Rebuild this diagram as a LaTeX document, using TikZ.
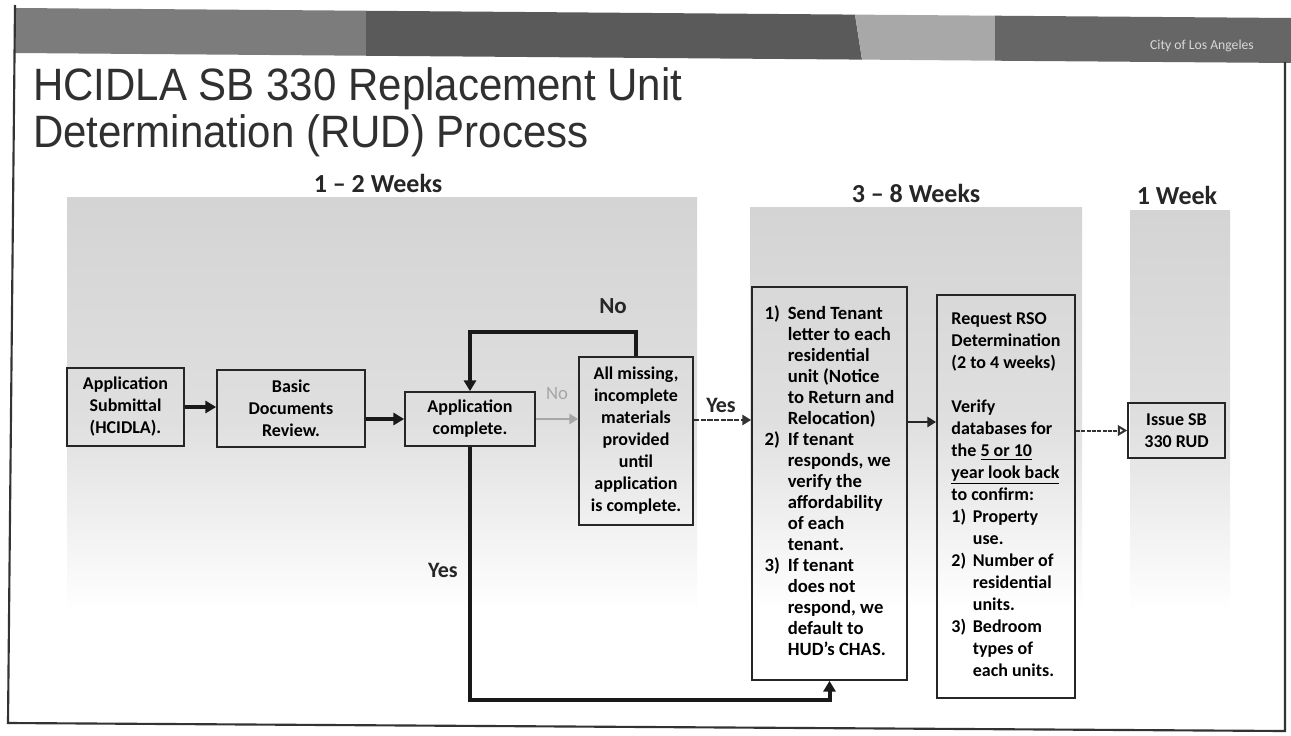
\documentclass[tikz,border=0pt]{standalone}
\usepackage{fontspec}
\setmainfont{Carlito}
\newfontfamily\titlefont{Liberation Sans}
\usetikzlibrary{arrows.meta}
\definecolor{bandA}{HTML}{7C7C7C}
\definecolor{bandB}{HTML}{5A5A5A}
\definecolor{bandC}{HTML}{A8A8A8}
\definecolor{bandD}{HTML}{666666}
\definecolor{panelTop}{HTML}{D4D4D4}
\definecolor{panelMid}{HTML}{DFDFDF}
\definecolor{titlecol}{HTML}{303030}
\definecolor{framecol}{HTML}{333333}
\begin{document}
\begin{tikzpicture}[x=0.75pt,y=-0.75pt,
  box/.style={draw=black!85, line width=1.3pt, inner sep=0pt, align=center,
    font=\bfseries\fontsize{13.5}{16.5}\selectfont},
  hdr/.style={font=\bfseries\fontsize{19.5}{22}\selectfont, text=black!85},
  lbl/.style={font=\bfseries\fontsize{16.5}{19}\selectfont, text=black!85},
  titlestyle/.style={anchor=base west, font=\titlefont\fontsize{31.5}{35}\selectfont, text=titlecol, inner sep=0pt},
  thickarrow/.style={draw=black!90, line width=3pt, -{Triangle[length=8pt,width=9pt]}},
  thinarrow/.style={draw=black!85, line width=2pt, -{Triangle[length=6.5pt,width=7.5pt]}},
  dasharrow/.style={draw=black!80, line width=1.8pt, dash pattern=on 4pt off 1pt, -{Triangle[length=6.5pt,width=7.5pt]}},
  openarrow/.style={draw=black!80, line width=1.5pt, dash pattern=on 3pt off 1pt, -{Triangle[open,length=7pt,width=8pt]}},
  grayarrow/.style={draw=black!35, line width=2.2pt, -{Triangle[length=6.5pt,width=7.5pt]}}
]
\useasboundingbox (0,0) rectangle (1291,735);
\fill[white] (0,0) rectangle (1291,735);

% top band
\fill[bandA] (15,8) -- (366,10.75) -- (366,55.75) -- (15,53) -- cycle;
\fill[bandB] (366,10.75) -- (855,14.6) -- (862,59.6) -- (366,55.75) -- cycle;
\fill[bandC] (855,14.6) -- (995,15.7) -- (995,60.7) -- (862,59.6) -- cycle;
\fill[bandD] (995,15.7) -- (1291,18) -- (1291,63) -- (995,60.7) -- cycle;
\node[font=\fontsize{10.25}{12}\selectfont, text=black!15] (city) at (1202,46) {City of Los Angeles};

% frame
\draw[framecol, line width=1.6pt] (15,5) -- (8,723) -- (1285,731) -- (1285,62);

% title
\node[titlestyle] (title1) at (33,100) {\scalebox{1}[1.08]{HCIDLA SB 330 Replacement Unit}};
\node[titlestyle] (title2) at (33,147) {\scalebox{1}[1.08]{Determination (RUD) Process}};

% panels
\shade[top color=panelTop, bottom color=panelMid] (67,197) rectangle (697,420);
\shade[top color=panelMid, bottom color=white] (67,420) rectangle (697,610);
\shade[top color=panelTop, bottom color=panelMid] (750,207) rectangle (1082,420);
\shade[top color=panelMid, bottom color=white] (750,420) rectangle (1082,610);
\shade[top color=panelTop, bottom color=panelMid] (1130,210) rectangle (1230,420);
\shade[top color=panelMid, bottom color=white] (1130,420) rectangle (1230,610);

% headers
\node[hdr] (h1) at (378,183) {1 – 2 Weeks};
\node[hdr] (h2) at (916,193) {3 – 8 Weeks};
\node[hdr] (h3) at (1177,195) {1 Week};

% boxes
\node[box, minimum width=87.75pt, minimum height=58.5pt] (A) at (125.5,407) {Application\\Submittal\\(HCIDLA).};
\node[box, minimum width=111pt, minimum height=57.75pt] (B) at (291,408.5) {Basic\\Documents\\Review.};
\node[box, minimum width=97.5pt, minimum height=40.5pt] (C) at (470,419) {Application\\complete.};
\node[box, minimum width=85.5pt, minimum height=126pt] (D) at (636,441) {All missing,\\incomplete\\materials\\provided\\until\\application\\is complete.};
\node[box, minimum width=116.25pt, minimum height=294.75pt, font=\bfseries\fontsize{14}{15.75}\selectfont] (E) at (829.5,483.5) {\begin{tabular}{@{}l@{\hspace{6pt}}l@{}}
1) & Send Tenant\\
   & letter to each\\
   & residential\\
   & unit (Notice\\
   & to Return and\\
   & Relocation)\\
2) & If tenant\\
   & responds, we\\
   & verify the\\
   & affordability\\
   & of each\\
   & tenant.\\
3) & If tenant\\
   & does not\\
   & respond, we\\
   & default to\\
   & HUD's CHAS.
\end{tabular}};
\node[box, minimum width=103.5pt, minimum height=302.25pt, font=\bfseries\fontsize{13.5}{16.5}\selectfont] (F) at (1006,496.5) {\begin{tabular}{@{}l@{\hspace{5pt}}l@{}}
\multicolumn{2}{@{}l@{}}{Request RSO}\\
\multicolumn{2}{@{}l@{}}{Determination}\\
\multicolumn{2}{@{}l@{}}{(2 to 4 weeks)}\\
\multicolumn{2}{@{}l@{}}{}\\
\multicolumn{2}{@{}l@{}}{Verify}\\
\multicolumn{2}{@{}l@{}}{databases for}\\
\multicolumn{2}{@{}l@{}}{the \underline{5 or 10}}\\
\multicolumn{2}{@{}l@{}}{\underline{year look back}}\\
\multicolumn{2}{@{}l@{}}{to confirm:}\\
1) & Property\\
   & use.\\
2) & Number of\\
   & residential\\
   & units.\\
3) & Bedroom\\
   & types of\\
   & each units.
\end{tabular}};
\node[box, minimum width=72.75pt, minimum height=41.25pt] (G) at (1176.5,430.5) {Issue SB\\330 RUD};

% helper coordinates
\coordinate (loopY) at (0,332);
\coordinate (bottomY) at (0,700);
\coordinate (yesY) at (0,420);
\coordinate (efY) at (0,422);

% connectors
\draw[thickarrow] (A.east) -- (A.east -| B.west);
\draw[thickarrow] (B.east |- C.west) -- (C.west);
\draw[grayarrow] (C.east) -- (C.east -| D.west);
\node[font=\fontsize{14}{16}\selectfont, text=black!35] (noGray) at (557,394) {No};
\draw[thickarrow] (D.north) -- (D.north |- loopY) -| (C.north);
\node[lbl, font=\bfseries\fontsize{17.25}{20}\selectfont] (noTop) at (613,306) {No};
\draw[dasharrow] (D.east |- yesY) -- (E.west |- yesY);
\node[lbl] (yes1) at (721,405) {Yes};
\draw[thickarrow] (C.south) -- (C.south |- bottomY) -| (E.south);
\node[lbl] (yes2) at (443,570) {Yes};
\draw[thinarrow] (E.east |- efY) -- (F.west |- efY);
\draw[openarrow] (F.east |- G.west) -- (G.west);
\end{tikzpicture}
\end{document}
